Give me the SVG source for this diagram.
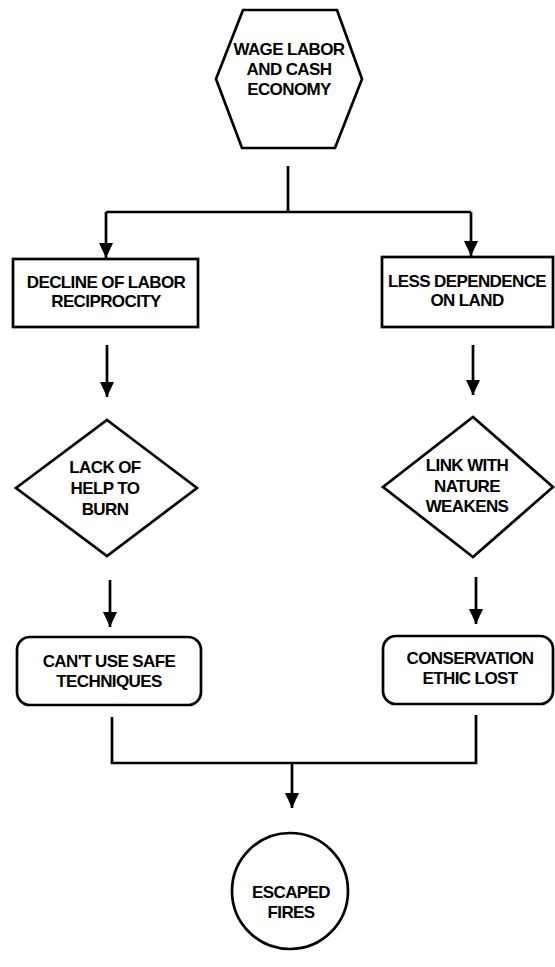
<svg xmlns="http://www.w3.org/2000/svg" width="555" height="967" viewBox="0 0 555 967">
<style>
.s{fill:#fff;stroke:#000;stroke-width:2.7;stroke-linejoin:miter}
.c{fill:none;stroke:#000;stroke-width:2.7}
text{font-family:"Liberation Sans",Arial,sans-serif;font-weight:bold;font-size:17px;fill:#000;text-anchor:middle;letter-spacing:-0.6px}
</style>
<defs>
<marker id="ah" markerUnits="userSpaceOnUse" markerWidth="16" markerHeight="16" viewBox="0 -8 16 16" refX="15" refY="0" orient="auto">
<path d="M0,-7 L15,0 L0,7 z" fill="#000"/>
</marker>
</defs>
<g id="connectors">
<path class="c" d="M288,166 V212"/>
<path class="c" d="M106,212 H471"/>
<path class="c" d="M106,212 V258" marker-end="url(#ah)"/>
<path class="c" d="M471,212 V256" marker-end="url(#ah)"/>
<path class="c" d="M107,345 V397" marker-end="url(#ah)"/>
<path class="c" d="M473,345 V395" marker-end="url(#ah)"/>
<path class="c" d="M110,580 V627" marker-end="url(#ah)"/>
<path class="c" d="M476,577 V624" marker-end="url(#ah)"/>
<path class="c" d="M112,717 V763 H476 V715"/>
<path class="c" d="M292,763 V808" marker-end="url(#ah)"/>
</g>
<g id="wage">
<polygon class="s" points="243,10 337,10 362,79 335,148 242,148 216,79"/>
<text x="289" y="55">WAGE LABOR</text>
<text x="289" y="75">AND CASH</text>
<text x="289" y="95">ECONOMY</text>
</g>
<g id="decline">
<rect class="s" x="13" y="259" width="185" height="68"/>
<text x="106" y="288">DECLINE OF LABOR</text>
<text x="106" y="307">RECIPROCITY</text>
</g>
<g id="less">
<rect class="s" x="382" y="257" width="171" height="70"/>
<text x="467" y="287">LESS DEPENDENCE</text>
<text x="467" y="306">ON LAND</text>
</g>
<g id="lack">
<polygon class="s" points="107,420 197,488 107,556 16,488"/>
<text x="105" y="473">LACK OF</text>
<text x="105" y="494">HELP TO</text>
<text x="105" y="515">BURN</text>
</g>
<g id="link">
<polygon class="s" points="473,417 553,487 473,557 383,487"/>
<text x="467" y="471">LINK WITH</text>
<text x="467" y="492">NATURE</text>
<text x="467" y="512">WEAKENS</text>
</g>
<g id="cant">
<rect class="s" x="17" y="637" width="184" height="68" rx="13"/>
<text x="109" y="667">CAN'T USE SAFE</text>
<text x="109" y="687">TECHNIQUES</text>
</g>
<g id="conservation">
<rect class="s" x="383" y="636" width="170" height="68" rx="13"/>
<text x="470" y="664">CONSERVATION</text>
<text x="470" y="684">ETHIC LOST</text>
</g>
<g id="escaped">
<circle class="s" cx="290" cy="891" r="58"/>
<text x="291" y="898">ESCAPED</text>
<text x="291" y="918">FIRES</text>
</g>
</svg>
